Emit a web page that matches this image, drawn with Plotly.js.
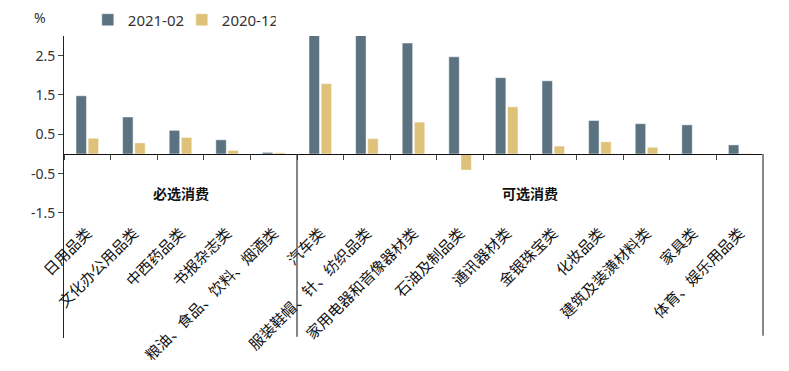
<!DOCTYPE html>
<html>
<head>
<meta charset="utf-8">
<script src="https://cdn.plot.ly/plotly-3.0.1.min.js"></script>
<style>html,body{margin:0;padding:0;background:#fff;}#chart{width:789px;height:371px;}</style>
</head>
<body>
<div id="chart"></div>
<script>
const categories = ["日用品类","文化办公用品类","中西药品类","书报杂志类","粮油、食品、饮料、烟酒类",
  "汽车类","服装鞋帽、针、纺织品类","家用电器和音像器材类","石油及制品类","通讯器材类",
  "金银珠宝类","化妆品类","建筑及装潢材料类","家具类","体育、娱乐用品类"];
const series2021_02 = [1.48,0.94,0.60,0.36,0.04, 3.6,3.3,2.82,2.47,1.94,1.86,0.85,0.77,0.74,0.23];
const series2020_12 = [0.40,0.28,0.42,0.09,0.03, 1.79,0.39,0.81,-0.41,1.20,0.20,0.31,0.17,0.0,0.01];
const yTicks = [-1.5,-0.5,0.5,1.5,2.5];
const groupLabels = ["必选消费","可选消费"];
const groupCenters = [2, 9.5];
const groupBoundary = 4.5;
const lastBoundary = 14.5;

const yMin = -4.68, yMax = 3.0;
const zeroFrac = (0 - yMin) / (yMax - yMin);
const FONT = "Noto Sans, Noto Sans CJK SC, sans-serif";

const traces = [
  {type:'bar', name:'2021-02', x:categories, y:series2021_02,
   marker:{color:'#5B7281', line:{color:'rgba(255,255,255,0.45)', width:1}}},
  {type:'bar', name:'2020-12', x:categories, y:series2020_12,
   marker:{color:'#DFC27A', line:{color:'rgba(255,255,255,0.45)', width:1}}}
];

const layout = {
  width:789, height:371,
  margin:{l:64, r:25, t:36, b:33, autoexpand:false},
  paper_bgcolor:'#fff', plot_bgcolor:'#fff',
  font:{family:FONT, color:'#333', size:13},
  barmode:'group', bargap:0.48, bargroupgap:0.14,
  showlegend:true,
  legend:{orientation:'h', x:0.034, y:1.053, xanchor:'left', yanchor:'middle',
          font:{size:15, color:'#333'}, itemwidth:30, entrywidth:49, entrywidthmode:'pixels'},
  xaxis:{type:'category', anchor:'free', position:zeroFrac,
         showline:true, linecolor:'#111', linewidth:1.5,
         ticks:'outside', ticklen:5, tickcolor:'#444', tickwidth:1, tickson:'boundaries',
         tickangle:-45, ticklabelstandoff:63,
         tickfont:{size:15, color:'#111', family:"Noto Sans CJK SC, sans-serif"},
         showgrid:false, zeroline:false, fixedrange:true},
  yaxis:{range:[yMin,yMax], tickmode:'array', tickvals:yTicks,
         ticktext:yTicks.map(v=>v.toFixed(1)),
         showline:true, linecolor:'#222', linewidth:1,
         ticks:'outside', ticklen:5, tickcolor:'#444',
         tickfont:{size:14, color:'#333'},
         showgrid:false, zeroline:false, fixedrange:true},
  annotations:[
    {text:'%', xref:'paper', yref:'paper', x:-0.034, y:1.06, xanchor:'center', yanchor:'middle', showarrow:false,
     font:{size:14, color:'#333'}},
    ...groupLabels.map((t,i)=>({text:'<b>'+t+'</b>', xref:'x', yref:'y', x:groupCenters[i], y:-1.0,
      showarrow:false, font:{size:14, color:'#111', family:"Noto Sans CJK SC, sans-serif"}}))
  ],
  shapes:[
    {type:'line', xref:'x', yref:'y', x0:groupBoundary, x1:groupBoundary, y0:0, y1:-4.65,
     line:{color:'#333', width:1.2}},
    {type:'line', xref:'x', yref:'y', x0:lastBoundary, x1:lastBoundary, y0:0, y1:-4.62,
     line:{color:'#888', width:2}}
  ]
};

Plotly.newPlot('chart', traces, layout, {displayModeBar:false, staticPlot:true});
</script>
</body>
</html>
